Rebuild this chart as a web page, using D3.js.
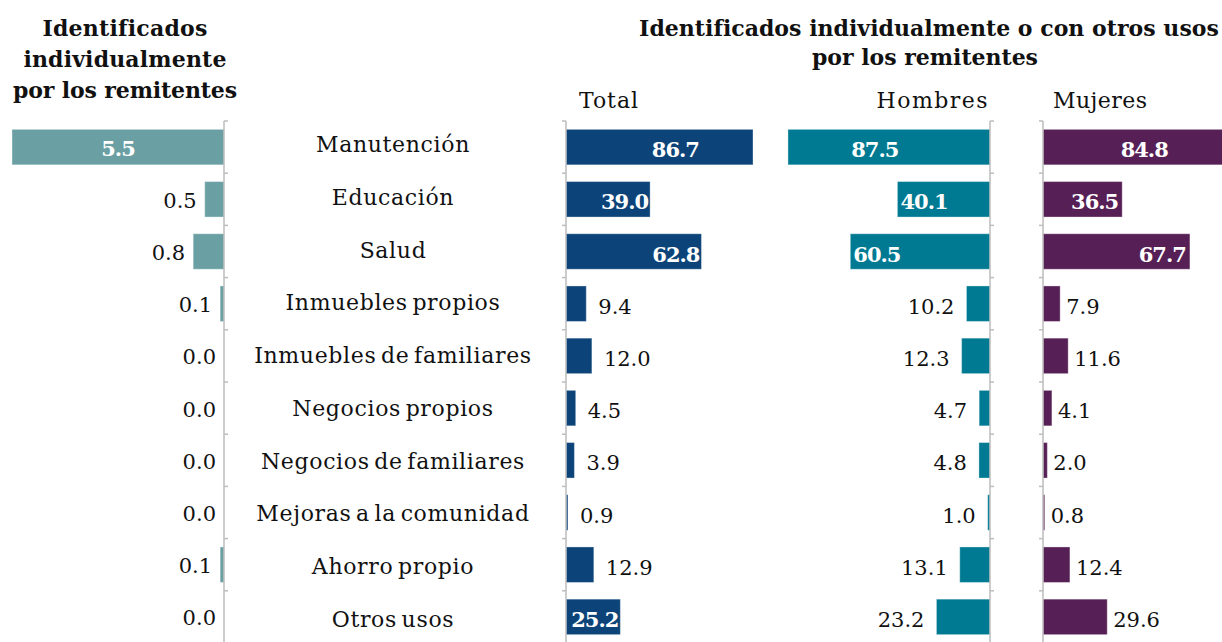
<!DOCTYPE html>
<html>
<head>
<meta charset="utf-8">
<script src="https://cdn.jsdelivr.net/npm/d3@7"></script>
<style>
  body { margin: 0; background: #fff; }
</style>
</head>
<body>
<svg id="chart" width="1222" height="642"></svg>
<script>
// ====================== data ======================
var categories = ["Manutención", "Educación", "Salud", "Inmuebles propios",
  "Inmuebles de familiares", "Negocios propios", "Negocios de familiares",
  "Mejoras a la comunidad", "Ahorro propio", "Otros usos"];
var individual = [5.5, 0.5, 0.8, 0.1, 0.0, 0.0, 0.0, 0.0, 0.1, 0.0];
var total      = [86.7, 39.0, 62.8, 9.4, 12.0, 4.5, 3.9, 0.9, 12.9, 25.2];
var hombres    = [87.5, 40.1, 60.5, 10.2, 12.3, 4.7, 4.8, 1.0, 13.1, 23.2];
var mujeres    = [84.8, 36.5, 67.7, 7.9, 11.6, 4.1, 2.0, 0.8, 12.4, 29.6];

var leftTitle = ["Identificados", "individualmente", "por los remitentes"];
var rightTitle = ["Identificados individualmente o con otros usos", "por los remitentes"];
var subTitles = ["Total", "Hombres", "Mujeres"];

var FONT = "'DejaVu Serif'";
var svg = d3.select("#chart");

// every text gets the serif face explicitly
function addText(sel) {
  return sel.append("text").style("font-family", FONT).attr("fill", "#111");
}

// bring a text to the reference width with letter spacing
function fit(sel, width) {
  sel.each(function() {
    var n = this.textContent.length;
    var w = this.getComputedTextLength();
    d3.select(this).style("letter-spacing", ((width - w) / (n - 1)) + "px");
  });
}

// rows
var y = d3.scaleBand()
    .domain(categories)
    .range([121, 643])
    .paddingInner(0.32)
    .paddingOuter(0.16);

var yLabel = d3.scalePoint()
    .domain(categories)
    .range([152, 627]);

var panels = [
  { values: individual, color: "#6aa0a4", x: d3.scaleLinear().domain([0, 5.5]).range([224, 12]),
    side: -1, insideMin: 2, gap: 8, pad: 2, top: 0.5, dy: 8.5 },
  { values: total, color: "#0c4479", x: d3.scaleLinear().domain([0, 100]).range([566, 781.7]),
    side: 1, insideMin: 20, gap: 12, pad: 2, top: 0.585, dy: 10 },
  { values: hombres, color: "#007a92", x: d3.scaleLinear().domain([0, 100]).range([990, 759.1]),
    side: -1, insideMin: 30, gap: 12, pad: 3, top: 0.57, dy: 10 },
  { values: mujeres, color: "#561f55", x: d3.scaleLinear().domain([0, 100]).range([1043, 1260]),
    side: 1, insideMin: 30, gap: 6, pad: 4, top: 0.55, dy: 10 }
];

panels.forEach(function(p) {
  var g = svg.append("g");
  var x0 = p.x(0);

  g.selectAll("rect")
    .data(p.values)
    .enter().append("rect")
    .attr("x", function(d) { return Math.min(x0, p.x(d)); })
    .attr("y", function(d, i) { return y(categories[i]); })
    .attr("width", function(d) { return Math.abs(p.x(d) - x0); })
    .attr("height", y.bandwidth())
    .attr("fill", p.color)
    .attr("stroke", "#ffffff")
    .attr("stroke-opacity", 0.35)
    .attr("stroke-width", 1);

  // axis line, small outward ticks between rows
  var axis = (p.side > 0 ? d3.axisLeft(y) : d3.axisRight(y))
    .tickSize(4).tickSizeOuter(0).tickFormat("");
  var ag = g.append("g")
    .attr("transform", "translate(" + x0 + ",0)")
    .call(axis);
  ag.select(".domain").attr("stroke", "#bdbdbd").attr("stroke-width", 1.5)
    .attr("d", "M0,121V642");
  ag.selectAll(".tick").attr("transform", function(d) {
    return "translate(0," + (y(d) + y.bandwidth() + y.step() * y.paddingInner() / 2) + ")";
  });
  ag.selectAll(".tick line").attr("stroke", "#bdbdbd").attr("stroke-width", 1.5);
  ag.append("line").attr("x1", 0).attr("x2", p.side > 0 ? -4 : 4)
    .attr("y1", 121).attr("y2", 121).attr("stroke", "#bdbdbd").attr("stroke-width", 1.5);

  // value labels
  p.values.forEach(function(d, i) {
    var t = addText(g).text(d.toFixed(1))
      .attr("y", y(categories[i]) + y.bandwidth() / 2 + p.dy)
      .attr("font-size", 21);
    var w = Math.abs(p.x(d) - x0);
    if (d >= p.insideMin) {
      t.attr("fill", "#fff").attr("font-weight", "bold").style("letter-spacing", "-1px");
      if (i === 0) {
        t.attr("x", x0 + p.side * w * p.top).attr("text-anchor", "middle");
      } else {
        t.attr("x", p.x(d) - p.side * p.pad)
         .attr("text-anchor", p.side > 0 ? "end" : "start");
      }
    } else {
      t.attr("x", p.x(d) + p.side * p.gap)
       .attr("text-anchor", p.side > 0 ? "start" : "end");
    }
  });
});

// category labels
var catG = svg.append("g");
categories.forEach(function(c) {
  addText(catG).attr("class", "cat")
    .attr("x", 393)
    .attr("y", yLabel(c))
    .attr("text-anchor", "middle")
    .attr("font-size", 22)
    .style("word-spacing", "-3px")
    .text(c);
});
var cats = catG.selectAll("text.cat");
// common spacing, measured on the widest label
var widest = cats.filter(function() { return this.textContent === "Inmuebles de familiares"; }).node();
var ls = (277 - widest.getComputedTextLength()) / (widest.textContent.length - 1);
cats.style("letter-spacing", ls + "px");

// titles
var leftW = [163, 203, 224];
leftTitle.forEach(function(s, i) {
  var t = addText(svg)
    .attr("x", 125)
    .attr("y", 36 + i * 31)
    .attr("text-anchor", "middle")
    .attr("font-weight", "bold")
    .attr("font-size", 22)
    .text(s);
  fit(t, leftW[i]);
});

var rightW = [578, 226], rightX = [929, 925];
rightTitle.forEach(function(s, i) {
  var t = addText(svg)
    .attr("x", rightX[i])
    .attr("y", 36 + i * 29)
    .attr("text-anchor", "middle")
    .attr("font-weight", "bold")
    .attr("font-size", 22)
    .text(s);
  fit(t, rightW[i]);
});

var subW = [59, 111, 94], subX = [579, 989, 1053];
subTitles.forEach(function(s, i) {
  var t = addText(svg)
    .attr("x", subX[i])
    .attr("y", 108)
    .attr("text-anchor", i === 1 ? "end" : "start")
    .attr("font-size", 22)
    .text(s);
  fit(t, subW[i]);
});
</script>
</body>
</html>
